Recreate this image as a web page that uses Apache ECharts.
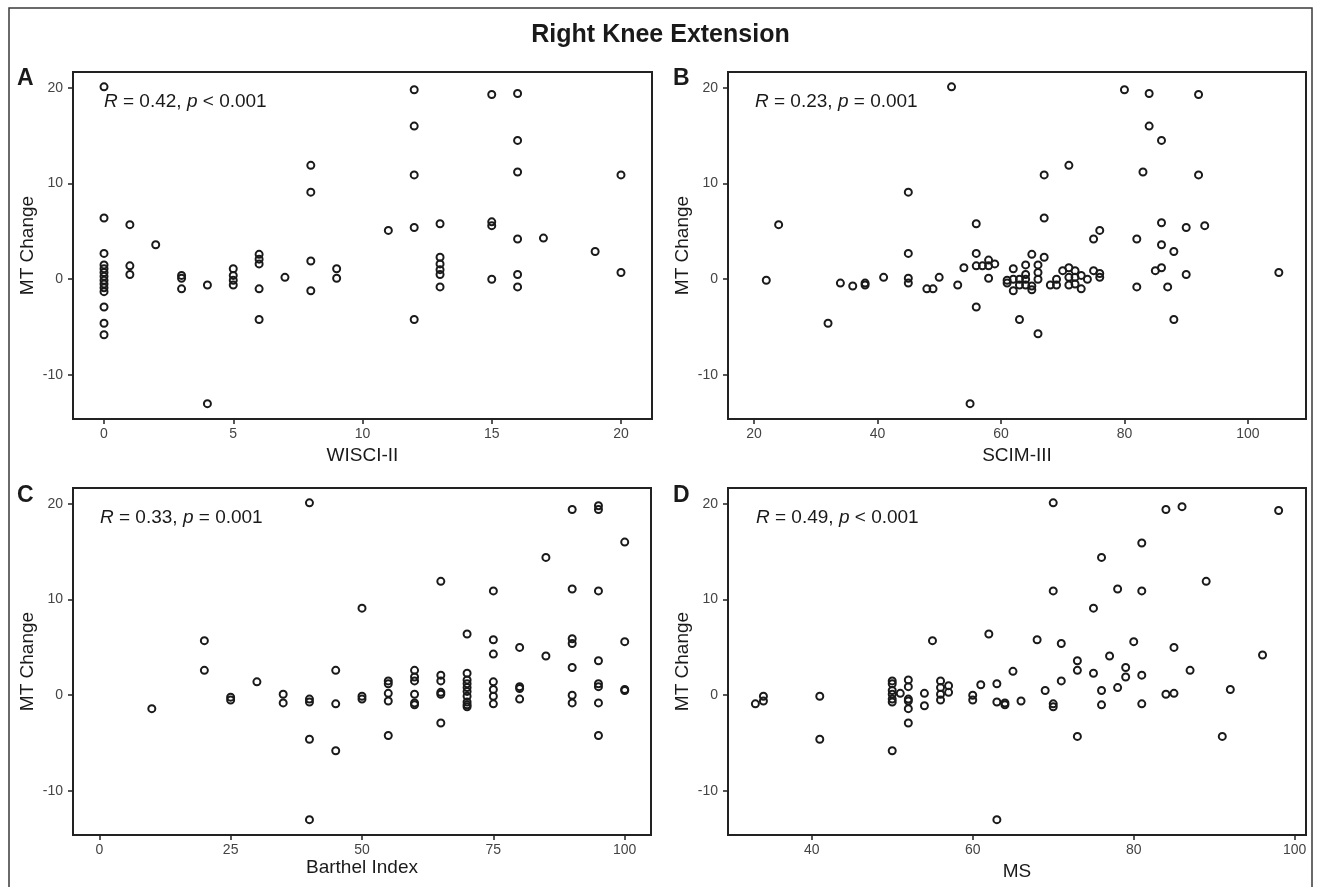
<!DOCTYPE html>
<html>
<head>
<meta charset="utf-8">
<title>Right Knee Extension</title>
<script src="https://cdn.jsdelivr.net/npm/echarts@6/dist/echarts.min.js"></script>
<style>
  html, body { margin: 0; padding: 0; background: #fff; }
  #main { width: 1321px; height: 887px; }
</style>
</head>
<body>
<div id="main"></div>
<script>
// values, one x array and one y array per panel
var wisciScore = [
  0, 0, 0, 0, 0, 0, 0, 0, 0, 0, 0, 0, 0, 0,
  1, 1, 1, 2, 3, 3, 3, 4, 4, 5, 5, 5, 5, 6, 6, 6, 6, 6, 7, 8, 8, 8, 8, 9, 9,
  11, 12, 12, 12, 12, 12, 13, 13, 13, 13, 13, 13, 15, 15, 15, 15, 16, 16, 16, 16, 16, 16, 17, 19, 20, 20
];
var wisciChange = [
  20.1, 6.4, 2.7, 1.5, 1.1, 0.7, 0.3, -0.1, -0.5, -0.9, -1.3, -2.9, -4.6, -5.8,
  5.7, 1.4, 0.5, 3.6, 0.4, 0.1, -1.0, -0.6, -13.0, 1.1, 0.4, -0.1, -0.6, 2.6, 2.1, 1.6, -1.0, -4.2, 0.2, 11.9, 9.1, 1.9, -1.2, 1.1, 0.1,
  5.1, 19.8, 16.0, 10.9, 5.4, -4.2, 5.8, 2.3, 1.6, 1.0, 0.5, -0.8, 19.3, 6.0, 5.6, 0.0, 19.4, 14.5, 11.2, 4.2, 0.5, -0.8, 4.3, 2.9, 10.9, 0.7
];

var scimScore = [
  22, 24, 32, 34, 36, 38, 38, 41, 45, 45, 45, 45, 48, 49, 50, 52, 53, 54, 55,
  56, 56, 56, 56, 57, 58, 58, 58, 59, 61, 61, 62, 62, 62, 63, 63, 63, 64, 64, 64, 64,
  65, 65, 65, 66, 66, 66, 66, 67, 67, 67, 68, 69, 69, 70, 71, 71, 71, 71, 72, 72, 72,
  73, 73, 74, 75, 75, 76, 76, 76, 80, 82, 82, 83, 84, 84, 85, 86, 86, 86, 86, 87,
  88, 88, 90, 90, 92, 92, 93, 105
];
var scimChange = [
  -0.1, 5.7, -4.6, -0.4, -0.7, -0.6, -0.4, 0.2, 9.1, 2.7, 0.1, -0.4, -1.0, -1.0, 0.2, 20.1, -0.6, 1.2, -13.0,
  5.8, 2.7, 1.4, -2.9, 1.4, 2.0, 1.4, 0.1, 1.6, -0.1, -0.4, 1.1, 0.0, -1.2, 0.0, -0.6, -4.2, 1.5, 0.5, 0.0, -0.6,
  2.6, -0.7, -1.1, 1.5, 0.7, 0.0, -5.7, 10.9, 6.4, 2.3, -0.6, 0.0, -0.6, 0.9, 11.9, 1.2, 0.2, -0.6, 0.9, 0.2, -0.5,
  0.4, -1.0, 0.0, 4.2, 0.9, 5.1, 0.6, 0.2, 19.8, 4.2, -0.8, 11.2, 19.4, 16.0, 0.9, 14.5, 5.9, 3.6, 1.2, -0.8,
  2.9, -4.2, 5.4, 0.5, 19.3, 10.9, 5.6, 0.7
];

var barthelScore = [
  10, 20, 20, 25, 25, 30, 35, 35, 40, 40, 40, 40, 40, 45, 45, 45, 50, 50, 50,
  55, 55, 55, 55, 55, 60, 60, 60, 60, 60, 60, 65, 65, 65, 65, 65, 65,
  70, 70, 70, 70, 70, 70, 70, 70, 70, 70, 75, 75, 75, 75, 75, 75, 75, 80, 80, 80, 80, 85, 85,
  90, 90, 90, 90, 90, 90, 90, 95, 95, 95, 95, 95, 95, 95, 95, 100, 100, 100, 100
];
var barthelChange = [
  -1.4, 5.7, 2.6, -0.2, -0.5, 1.4, 0.1, -0.8, 20.1, -0.4, -0.7, -4.6, -13.0, 2.6, -0.9, -5.8, 9.1, -0.1, -0.4,
  1.5, 1.2, 0.2, -0.6, -4.2, 2.6, 1.9, 1.5, 0.1, -0.8, -1.0, 11.9, 2.1, 1.5, 0.3, 0.1, -2.9,
  6.4, 2.3, 1.6, 1.2, 0.8, 0.4, -0.1, -0.7, -1.0, -1.2, 10.9, 5.8, 4.3, 1.4, 0.6, -0.1, -0.9, 5.0, 0.9, 0.7, -0.4, 14.4, 4.1,
  19.4, 11.1, 5.9, 5.4, 2.9, 0.0, -0.8, 19.8, 19.4, 10.9, 3.6, 1.2, 0.9, -0.8, -4.2, 16.0, 5.6, 0.6, 0.5
];

var msScore = [
  33, 34, 34, 41, 41, 50, 50, 50, 50, 50, 50, 50, 51, 52, 52, 52, 52, 52, 52, 54, 54, 55,
  56, 56, 56, 56, 57, 57, 60, 60, 61, 62, 63, 63, 63, 64, 64, 65, 66, 68, 69,
  70, 70, 70, 70, 71, 71, 73, 73, 73, 75, 75, 76, 76, 76, 77, 78, 78, 79, 79, 80,
  81, 81, 81, 81, 84, 84, 85, 85, 86, 87, 89, 91, 92, 96, 98
];
var msChange = [
  -0.9, -0.6, -0.1, -0.1, -4.6, -5.8, 1.5, 1.2, 0.5, 0.1, -0.4, -0.7, 0.2, 1.6, 0.9, -0.4, -0.6, -1.4, -2.9, 0.2, -1.1, 5.7,
  1.5, 0.8, 0.1, -0.5, 1.0, 0.3, 0.0, -0.5, 1.1, 6.4, 1.2, -0.7, -13.0, -0.8, -1.0, 2.5, -0.6, 5.8, 0.5,
  20.1, 10.9, -0.9, -1.2, 5.4, 1.5, 3.6, 2.6, -4.3, 9.1, 2.3, 14.4, 0.5, -1.0, 4.1, 11.1, 0.8, 2.9, 1.9, 5.6,
  15.9, 10.9, 2.1, -0.9, 19.4, 0.1, 5.0, 0.2, 19.7, 2.6, 11.9, -4.3, 0.6, 4.2, 19.3
];

var yTicks = [-10, 0, 10, 20];
var wisciTicks = [0, 5, 10, 15, 20];
var scimTicks = [20, 40, 60, 80, 100];
var barthelTicks = [0, 25, 50, 75, 100];
var msTicks = [40, 60, 80, 100];

var panelLetters = ["A", "B", "C", "D"];
var xTitles = ["WISCI-II", "SCIM-III", "Barthel Index", "MS"];
var yTitle = "MT Change";
var statTexts = [
  "{i|R} = 0.42, {i|p} < 0.001",
  "{i|R} = 0.23, {i|p} = 0.001",
  "{i|R} = 0.33, {i|p} = 0.001",
  "{i|R} = 0.49, {i|p} < 0.001"
];
var mainTitle = "Right Knee Extension";

var font = "Liberation Sans, Arial, Helvetica, sans-serif";

var panels = [
  { xs: wisciScore, ys: wisciChange, ticks: wisciTicks, min: -1.2, max: 21.2, grid: { left: 73, top: 72, width: 579, height: 347 }, nameGap: 27, letter: [17, 67], stat: [104, 92] },
  { xs: scimScore, ys: scimChange, ticks: scimTicks, min: 15.8, max: 109.4, grid: { left: 728, top: 72, width: 578, height: 347 }, nameGap: 27, letter: [673, 67], stat: [755, 92] },
  { xs: barthelScore, ys: barthelChange, ticks: barthelTicks, min: -5, max: 105, grid: { left: 73, top: 488, width: 578, height: 347 }, nameGap: 22, letter: [17, 484], stat: [100, 508] },
  { xs: msScore, ys: msChange, ticks: msTicks, min: 29.6, max: 101.4, grid: { left: 728, top: 488, width: 578, height: 347 }, nameGap: 27, letter: [673, 484], stat: [756, 508] }
];

var grids = [], xAxes = [], yAxes = [], series = [];
var titles = [{
  text: mainTitle,
  left: "center",
  top: 23,
  padding: 0,
  textStyle: { fontFamily: font, fontSize: 25, fontWeight: "bold", color: "#1a1a1a" }
}];

for (var k = 0; k < panels.length; k++) {
  var p = panels[k];
  grids.push({
    left: p.grid.left, top: p.grid.top, width: p.grid.width, height: p.grid.height,
    show: true, borderColor: "#222", borderWidth: 2, backgroundColor: "transparent"
  });
  xAxes.push({
    type: "value",
    gridIndex: k,
    min: p.min,
    max: p.max,
    name: xTitles[k],
    nameLocation: "middle",
    nameGap: p.nameGap,
    nameTextStyle: { fontFamily: font, fontSize: 19, color: "#1a1a1a" },
    axisLine: { show: false, onZero: false },
    axisTick: { show: true, length: 5, customValues: p.ticks, lineStyle: { color: "#222", width: 1.5 } },
    axisLabel: { customValues: p.ticks, margin: 8, fontFamily: font, fontSize: 14, color: "#444" },
    splitLine: { show: false }
  });
  yAxes.push({
    type: "value",
    gridIndex: k,
    min: -14.6,
    max: 21.65,
    name: yTitle,
    nameLocation: "middle",
    nameGap: 36,
    nameTextStyle: { fontFamily: font, fontSize: 19, color: "#1a1a1a" },
    axisLine: { show: false, onZero: false },
    axisTick: { show: true, length: 5, customValues: yTicks, lineStyle: { color: "#222", width: 1.5 } },
    axisLabel: { customValues: yTicks, margin: 10, fontFamily: font, fontSize: 14, color: "#444" },
    splitLine: { show: false }
  });
  var pts = [];
  for (var i = 0; i < p.xs.length; i++) {
    pts.push([p.xs[i], p.ys[i]]);
  }
  series.push({
    type: "scatter",
    xAxisIndex: k,
    yAxisIndex: k,
    symbol: "circle",
    symbolSize: 7,
    itemStyle: { color: "rgba(0,0,0,0)", borderColor: "#1a1a1a", borderWidth: 2, opacity: 1 },
    emphasis: { disabled: true },
    data: pts
  });
  titles.push({
    text: panelLetters[k],
    left: p.letter[0],
    top: p.letter[1],
    padding: 0,
    textStyle: { fontFamily: font, fontSize: 23, fontWeight: "bold", color: "#1a1a1a" }
  });
  titles.push({
    text: statTexts[k],
    left: p.stat[0],
    top: p.stat[1],
    padding: 0,
    textStyle: {
      fontFamily: font, fontSize: 19, fontWeight: "normal", color: "#1a1a1a",
      rich: { i: { fontFamily: font, fontSize: 19, fontStyle: "italic", color: "#1a1a1a" } }
    }
  });
}

var chart = echarts.init(document.getElementById("main"), null, { renderer: "canvas" });
chart.setOption({
  backgroundColor: "#fff",
  animation: false,
  title: titles,
  grid: grids,
  xAxis: xAxes,
  yAxis: yAxes,
  series: series,
  graphic: [{
    type: "rect",
    silent: true,
    shape: { x: 9, y: 8, width: 1303, height: 900 },
    style: { fill: "none", stroke: "#3a3a3a", lineWidth: 1.5 }
  }]
});
</script>
</body>
</html>
